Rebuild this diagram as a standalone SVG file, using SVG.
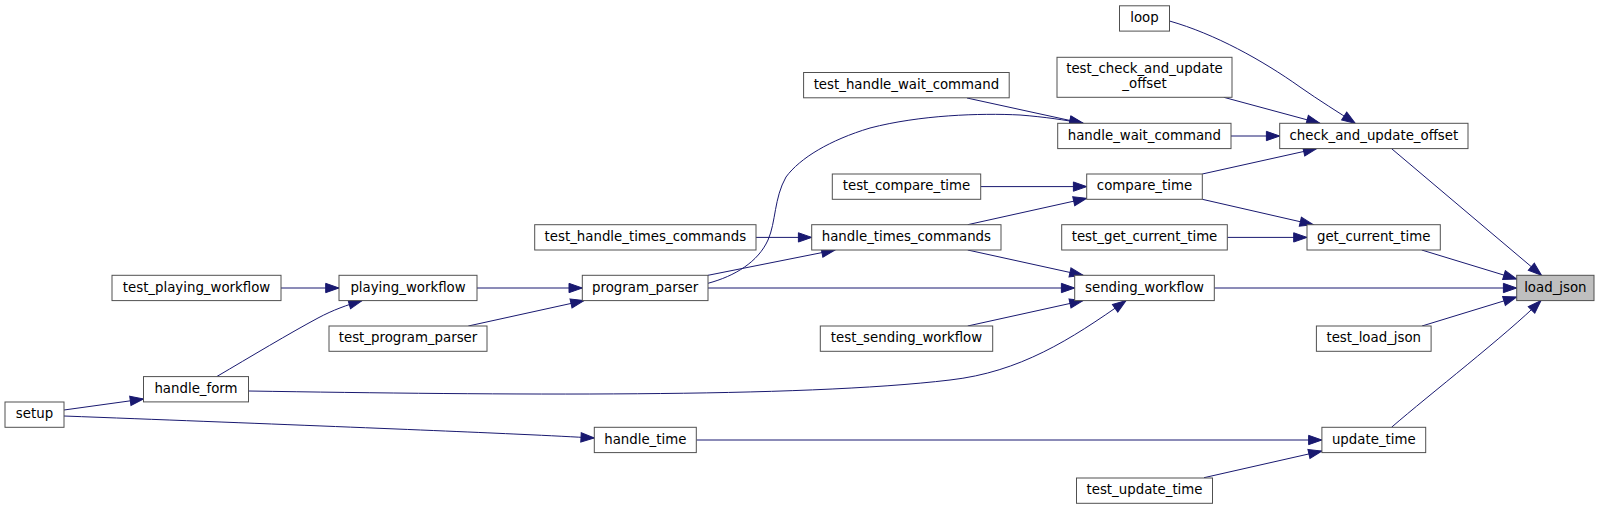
<svg xmlns="http://www.w3.org/2000/svg" width="1605" height="509" viewBox="0 0 1605 509">
<style>
  .node rect { fill: #ffffff; stroke: #505050; stroke-width: 1; }
  .node.root rect { fill: #bfbfbf; }
  .node text { font-family: "DejaVu Sans", "Liberation Sans", sans-serif; font-size: 13.33px; fill: #000000; text-anchor: middle; }
  .edges path { fill: none; stroke: #191970; stroke-width: 1; marker-end: url(#ah); }
</style>
<defs>
  <marker id="ah" markerUnits="userSpaceOnUse" markerWidth="16" markerHeight="12" viewBox="-1 -1 16 12" refX="13.3" refY="4.65" orient="auto">
    <path d="M0,0 L13.3,4.65 L0,9.3 z" fill="#191970" stroke="#191970" stroke-width="1"/>
  </marker>
</defs>
<rect x="0" y="0" width="1605" height="509" fill="#ffffff"/>

<g class="edges" id="connectors">
  <!-- loop -> check_and_update_offset -->
  <path d="M1169.5,21 C1215,34 1262,60 1300,87 C1320,101 1338,112 1355.3,123.3"/>
  <!-- test_check_and_update_offset -> check_and_update_offset -->
  <path d="M1223.8,97.3 L1320,123.3"/>
  <!-- handle_wait_command -> check_and_update_offset -->
  <path d="M1231,136 L1279.7,136"/>
  <!-- test_handle_wait_command -> handle_wait_command -->
  <path d="M967,98 L1083,123.3"/>
  <!-- program_parser -> handle_wait_command -->
  <path d="M708,283.3 C735,276 758,262 768,240 C776,222 774,198 786,177 C800,158 830,140 870,128 C920,115 980,113 1020,115 C1045,117 1065,120 1083,123.3"/>
  <!-- compare_time -> check_and_update_offset -->
  <path d="M1202.3,174 L1316.7,148.6"/>
  <!-- check_and_update_offset -> load_json -->
  <path d="M1391.5,148.6 L1541.5,275.3"/>
  <!-- test_compare_time -> compare_time -->
  <path d="M980.7,186.6 L1086.7,186.6"/>
  <!-- handle_times_commands -> compare_time -->
  <path d="M967.7,224.7 L1086.7,198.3"/>
  <!-- compare_time -> get_current_time -->
  <path d="M1202.3,199.3 L1313.3,224.7"/>
  <!-- test_get_current_time -> get_current_time -->
  <path d="M1227.3,237.4 L1307,237.4"/>
  <!-- get_current_time -> load_json -->
  <path d="M1421.7,250 L1516.7,279"/>
  <!-- sending_workflow -> load_json -->
  <path d="M1214.3,288 L1516.7,288"/>
  <!-- test_load_json -> load_json -->
  <path d="M1422,326 L1516.7,297"/>
  <!-- update_time -> load_json -->
  <path d="M1391.5,427.3 C1430,394 1505,336 1541,300.6"/>
  <!-- handle_times_commands -> sending_workflow -->
  <path d="M967.7,250 L1083,275.3"/>
  <!-- program_parser -> sending_workflow -->
  <path d="M708,288 L1074.7,288"/>
  <!-- test_sending_workflow -> sending_workflow -->
  <path d="M967.7,326 L1083,300.6"/>
  <!-- handle_form -> sending_workflow -->
  <path d="M248.5,391 C500,395 800,398 950,380 C1020,372 1070,340 1126,300.6"/>
  <!-- test_handle_times_commands -> handle_times_commands -->
  <path d="M756,237.4 L811.7,237.4"/>
  <!-- program_parser -> handle_times_commands -->
  <path d="M708,275.3 L835,250"/>
  <!-- test_playing_workflow -> playing_workflow -->
  <path d="M281,288 L339,288"/>
  <!-- playing_workflow -> program_parser -->
  <path d="M477,288 L582.3,288"/>
  <!-- test_program_parser -> program_parser -->
  <path d="M468.3,326 L584,300.6"/>
  <!-- handle_form -> playing_workflow -->
  <path d="M216.7,376.6 C250,357 290,333 318,318 C333,310 347,305 362,300.6"/>
  <!-- setup -> handle_form -->
  <path d="M64,410 L143.5,399"/>
  <!-- setup -> handle_time -->
  <path d="M64,416 C250,423 450,431 520,434.3 C550,435.6 575,437 594.3,438"/>
  <!-- handle_time -> update_time -->
  <path d="M696.3,440 L1321.9,440"/>
  <!-- test_update_time -> update_time -->
  <path d="M1204,477.7 L1321.9,451"/>
</g>

<g class="node" id="node_loop"><rect x="1119.5" y="5.8" width="50" height="25.3"/><text x="1144.5" y="22.1">loop</text></g>
<g class="node" id="node_test_check_and_update_offset"><rect x="1057" y="57.3" width="175" height="40"/><text x="1144.5" y="72.8">test_check_and_update</text><text x="1144.5" y="87.8">_offset</text></g>
<g class="node" id="node_test_handle_wait_command"><rect x="803.6" y="72.5" width="205.6" height="25.3"/><text x="906.4" y="88.8">test_handle_wait_command</text></g>
<g class="node" id="node_handle_wait_command"><rect x="1057.7" y="123.3" width="173.3" height="25.3"/><text x="1144.35" y="139.6">handle_wait_command</text></g>
<g class="node" id="node_check_and_update_offset"><rect x="1279.7" y="123.3" width="188.3" height="25.3"/><text x="1373.85" y="139.6">check_and_update_offset</text></g>
<g class="node" id="node_test_compare_time"><rect x="832.3" y="174" width="148.4" height="25.3"/><text x="906.5" y="190.3">test_compare_time</text></g>
<g class="node" id="node_compare_time"><rect x="1086.7" y="174" width="115.6" height="25.3"/><text x="1144.5" y="190.3">compare_time</text></g>
<g class="node" id="node_test_handle_times_commands"><rect x="534.7" y="224.7" width="221.3" height="25.3"/><text x="645.35" y="241">test_handle_times_commands</text></g>
<g class="node" id="node_handle_times_commands"><rect x="811.7" y="224.7" width="189.3" height="25.3"/><text x="906.35" y="241">handle_times_commands</text></g>
<g class="node" id="node_test_get_current_time"><rect x="1061.7" y="224.7" width="165.6" height="25.3"/><text x="1144.5" y="241">test_get_current_time</text></g>
<g class="node" id="node_get_current_time"><rect x="1307" y="224.7" width="133.3" height="25.3"/><text x="1373.65" y="241">get_current_time</text></g>
<g class="node" id="node_test_playing_workflow"><rect x="112" y="275.3" width="169" height="25.3"/><text x="196.5" y="291.6">test_playing_workflow</text></g>
<g class="node" id="node_playing_workflow"><rect x="339" y="275.3" width="138" height="25.3"/><text x="408" y="291.6">playing_workflow</text></g>
<g class="node" id="node_program_parser"><rect x="582.3" y="275.3" width="125.7" height="25.3"/><text x="645.15" y="291.6">program_parser</text></g>
<g class="node" id="node_sending_workflow"><rect x="1074.7" y="275.3" width="139.6" height="25.3"/><text x="1144.5" y="291.6">sending_workflow</text></g>
<g class="node root" id="node_load_json"><rect x="1516.7" y="275.3" width="77.3" height="25.3"/><text x="1555.35" y="291.6">load_json</text></g>
<g class="node" id="node_test_program_parser"><rect x="329" y="326" width="158" height="25.3"/><text x="408" y="342.3">test_program_parser</text></g>
<g class="node" id="node_test_sending_workflow"><rect x="820.3" y="326" width="172.4" height="25.3"/><text x="906.5" y="342.3">test_sending_workflow</text></g>
<g class="node" id="node_test_load_json"><rect x="1316.4" y="326" width="114.7" height="25.3"/><text x="1373.75" y="342.3">test_load_json</text></g>
<g class="node" id="node_handle_form"><rect x="143.5" y="376.6" width="105" height="25.3"/><text x="196" y="392.9">handle_form</text></g>
<g class="node" id="node_setup"><rect x="5" y="402" width="59" height="25.3"/><text x="34.5" y="418.3">setup</text></g>
<g class="node" id="node_handle_time"><rect x="594.3" y="427.3" width="102" height="25.3"/><text x="645.3" y="443.6">handle_time</text></g>
<g class="node" id="node_update_time"><rect x="1321.9" y="427.3" width="103.8" height="25.3"/><text x="1373.8" y="443.6">update_time</text></g>
<g class="node" id="node_test_update_time"><rect x="1076.5" y="478" width="136" height="25.3"/><text x="1144.5" y="494.3">test_update_time</text></g>
</svg>
